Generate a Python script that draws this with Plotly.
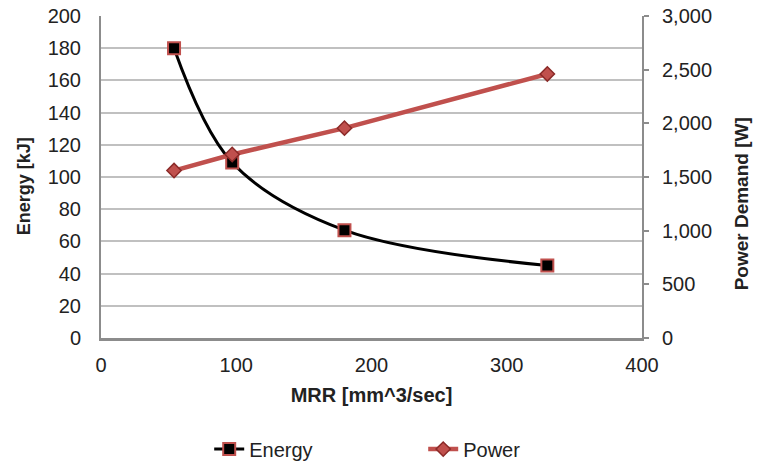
import plotly.graph_objects as go

mrr = [54, 97, 180, 330]
energy = [180, 109, 67, 45]
power = [1560, 1710, 1955, 2460]

left_ticks = list(range(0, 201, 20))
right_ticks = [0, 500, 1000, 1500, 2000, 2500, 3000]
right_labels = ["0", "500", "1,000", "1,500", "2,000", "2,500", "3,000"]
x_ticks = [0, 100, 200, 300, 400]

FONT = "Liberation Sans, Arial, sans-serif"
RED = "#c0504d"
DARKRED = "#8b2a28"
TXT = "#222222"

fig = go.Figure()
fig.add_trace(go.Scatter(
    x=mrr, y=energy, name="Energy", mode="lines+markers",
    line=dict(color="black", width=3, shape="spline", smoothing=1.0),
    marker=dict(symbol="square", size=12, color="black",
                line=dict(color=RED, width=2)),
    yaxis="y"))
fig.add_trace(go.Scatter(
    x=mrr, y=power, name="Power", mode="lines+markers",
    line=dict(color=RED, width=4.5),
    marker=dict(symbol="diamond", size=11, color=RED,
                line=dict(color=DARKRED, width=1.5)),
    yaxis="y2"))

fig.update_layout(
    width=757, height=464,
    margin=dict(l=101, r=115, t=16, b=126, autoexpand=False),
    paper_bgcolor="white", plot_bgcolor="white",
    font=dict(family=FONT, size=20, color=TXT),
    showlegend=True,
    legend=dict(orientation="h", x=0.2, xanchor="left", y=-0.345, yanchor="middle",
                font=dict(size=20, color=TXT),
                entrywidth=169, entrywidthmode="pixels", itemwidth=30,
                bgcolor="rgba(0,0,0,0)"),
    xaxis=dict(range=[0, 400], tickvals=x_ticks, showgrid=False, zeroline=False,
               automargin=False,
               showline=True, linecolor="#8c8c8c", linewidth=2.5,
               ticks="", ticklabelstandoff=7,
               title=dict(text="<b>MRR [mm^3/sec]</b>", font=dict(size=20, color=TXT),
                          standoff=14)),
    yaxis=dict(range=[0, 200], tickvals=left_ticks, showgrid=True, automargin=False,
               gridcolor="#c0c0c0", gridwidth=2, zeroline=False,
               showline=True, linecolor="#8c8c8c", linewidth=2,
               ticks="", ticklabelstandoff=14),
    yaxis2=dict(range=[0, 3000], tickvals=right_ticks, ticktext=right_labels,
                overlaying="y", side="right", showgrid=False, zeroline=False,
                automargin=False,
                showline=True, linecolor="#8c8c8c", linewidth=2,
                ticks="outside", ticklen=5, tickcolor="#8c8c8c", tickwidth=1.5,
                ticklabelstandoff=9),
    annotations=[
        dict(text="<b>Energy [kJ]</b>", textangle=-90, xref="paper", yref="paper",
             x=-0.143, y=0.47, xanchor="center", yanchor="middle", showarrow=False,
             font=dict(size=18, color=TXT)),
        dict(text="<b>Power Demand [W]</b>", textangle=-90, xref="paper", yref="paper",
             x=1.183, y=0.415, xanchor="center", yanchor="middle", showarrow=False,
             font=dict(size=19, color=TXT)),
    ],
)

fig.write_html("out.html", config={"displayModeBar": False},
               post_script="document.body.style.margin='0';document.body.style.overflow='hidden';")
